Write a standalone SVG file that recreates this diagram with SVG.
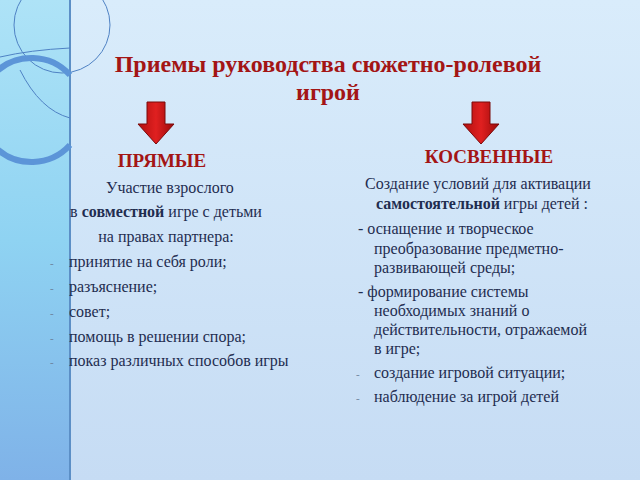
<svg xmlns="http://www.w3.org/2000/svg" width="640" height="480" viewBox="0 0 640 480" font-family="'Liberation Serif', 'DejaVu Serif', serif">
<defs>
<linearGradient id="band" x1="0" y1="0" x2="0" y2="1"><stop offset="0" stop-color="#aee3f7"/><stop offset="0.5" stop-color="#8fd3f2"/><stop offset="1" stop-color="#7fb2e8"/></linearGradient>
<linearGradient id="bg" x1="0" y1="0" x2="0" y2="1"><stop offset="0" stop-color="#d9ecfb"/><stop offset="1" stop-color="#c6dcf4"/></linearGradient>
<linearGradient id="arr" x1="0" y1="0" x2="1" y2="0"><stop offset="0" stop-color="#b01010"/><stop offset="0.5" stop-color="#e02020"/><stop offset="1" stop-color="#9a0a0a"/></linearGradient>
<path id="arrow" d="M-9,0 H9 V22 H18 L0,42 L-18,22 H-9 Z" fill="url(#arr)" stroke="#7a0a0a" stroke-width="1"/>
</defs>
<style>
text{font-family:'Liberation Serif','DejaVu Serif',serif}
.t{fill:#1f2d50;font-size:16px}
.h{fill:#a31515;font-weight:bold}
.d{fill:#6a7f99;font-size:11px}
</style>
<rect width="640" height="480" fill="url(#bg)"/>
<rect width="70" height="480" fill="url(#band)"/>
<line x1="70" y1="0" x2="70" y2="480" stroke="#5c8fc6" stroke-width="2"/>
<g fill="none">
<circle cx="62" cy="25" r="48" stroke="#4f82c4" stroke-width="1"/>
<path d="M0,57 Q30,50 70,48" stroke="#4f82c4" stroke-width="1"/>
<path d="M70,75 A52,52 0 1 0 70,145" stroke="#5c95d8" stroke-width="6"/>
<path d="M20,70 Q40,110 70,118" stroke="#4f82c4" stroke-width="1"/>
</g>
<g id="title">
<text class="h" x="328" y="72" font-size="24" text-anchor="middle">Приемы руководства сюжетно-ролевой</text>
<text class="h" x="328" y="100" font-size="24" text-anchor="middle">игрой</text>
</g>
<g id="arrows">
<use href="#arrow" x="156" y="102"/>
<use href="#arrow" x="481" y="102"/>
</g>
<g id="left">
<text class="h" x="162" y="167" font-size="19" text-anchor="middle">ПРЯМЫЕ</text>
<text class="t" x="170" y="193" text-anchor="middle">Участие  взрослого</text>
<text class="t" x="166" y="217" text-anchor="middle">в <tspan font-weight="bold">совместной</tspan> игре с детьми</text>
<text class="t" x="166" y="242" text-anchor="middle">на правах партнера:</text>
<g class="t"><text x="69" y="267">принятие на себя роли;</text><text x="69" y="292">разъяснение;</text><text x="69" y="317">совет;</text><text x="69" y="342">помощь в решении спора;</text><text x="69" y="366">показ различных способов игры</text></g>
<g class="t d"><text x="50" y="267">-</text><text x="50" y="292">-</text><text x="50" y="317">-</text><text x="50" y="342">-</text><text x="50" y="366">-</text></g>
</g>
<g id="right">
<text class="h" x="489" y="163" font-size="19" text-anchor="middle">КОСВЕННЫЕ</text>
<text class="t" x="478" y="189" text-anchor="middle">Создание условий для активации</text>
<text class="t" x="482" y="209" text-anchor="middle"><tspan font-weight="bold">самостоятельной</tspan> игры детей :</text>
<text class="t" x="358" y="234">-  оснащение и творческое</text>
<text class="t" x="374" y="254">преобразование предметно-</text>
<text class="t" x="374" y="273">развивающей среды;</text>
<text class="t" x="358" y="297">-  формирование системы</text>
<text class="t" x="374" y="316">необходимых знаний о</text>
<text class="t" x="374" y="335">действительности, отражаемой</text>
<text class="t" x="374" y="354">в игре;</text>
<text class="t" x="374" y="378">создание игровой ситуации;</text>
<text class="t" x="374" y="402">наблюдение за игрой детей</text>
<text class="t d" x="356" y="378">-</text>
<text class="t d" x="356" y="402">-</text>
</g>
</svg>
